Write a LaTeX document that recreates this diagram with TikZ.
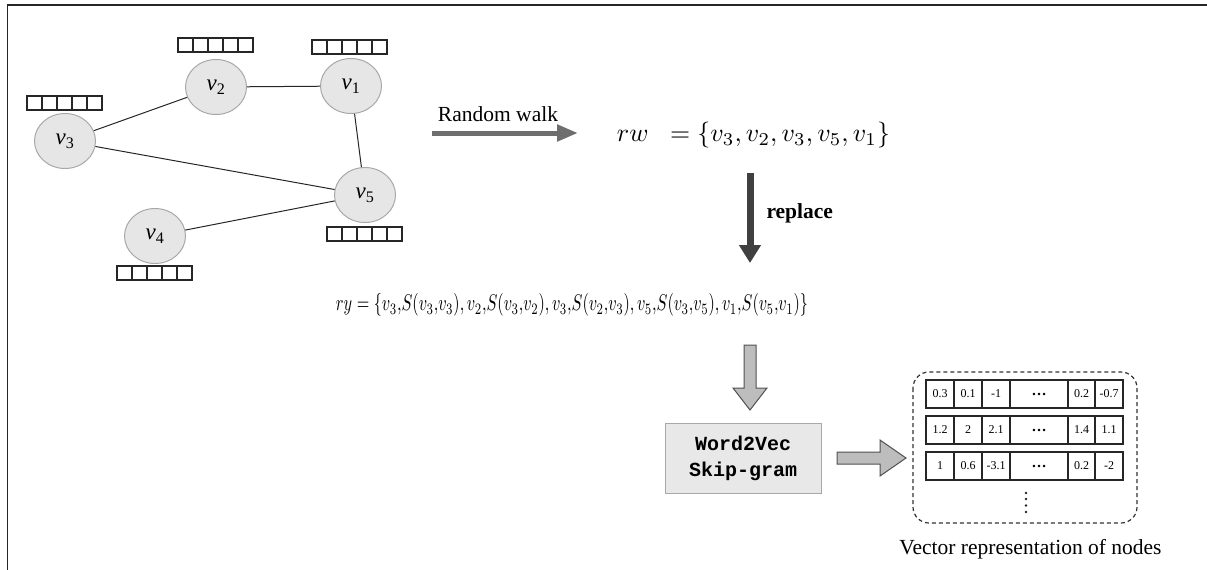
\documentclass[tikz,border=0pt]{standalone}
\usepackage{fontspec}
\usepackage{graphicx}
\setmainfont{Liberation Serif}
\newfontfamily\monob{Liberation Mono}
\usetikzlibrary{shapes.geometric,arrows.meta}
\definecolor{nodefill}{HTML}{E6E6E6}
\definecolor{nodeline}{HTML}{A8A8A8}
\definecolor{rwgray}{HTML}{6E6E6E}
\definecolor{repgray}{HTML}{404040}
\definecolor{blockfill}{HTML}{BDBDBD}
\definecolor{blockline}{HTML}{505050}
\definecolor{boxfill}{HTML}{E8E8E8}
\tikzset{
  vnode/.style={ellipse, minimum width=61pt, minimum height=55pt, inner sep=0pt, fill=nodefill, draw=nodeline, line width=1pt, font=\fontsize{23}{26}\selectfont},
  edge/.style={draw=black!85, line width=1pt},
  cellbox/.style={draw=black!85, line width=1.1pt},
  cell/.style={draw=black!85, line width=1.2pt, minimum height=28pt, inner sep=0pt, font=\fontsize{12}{14}\selectfont},
  blockarrow/.style={fill=blockfill, draw=blockline, line width=1pt, line join=miter},
}
\begin{document}
\begin{tikzpicture}[x=1pt,y=-1pt]
\useasboundingbox (0,0) rectangle (1207,570);
% frame
\draw[line width=1.3pt, black!85] (7.5,570) -- (7.5,5) -- (1207,5);

% graph nodes
\node[vnode] (v2) at (216,87) {\textit{v}\textsubscript{2}};
\node[vnode] (v1) at (351,86) {\textit{v}\textsubscript{1}};
\node[vnode] (v3) at (65,141) {\textit{v}\textsubscript{3}};
\node[vnode] (v5) at (365,195) {\textit{v}\textsubscript{5}};
\node[vnode] (v4) at (155,236) {\textit{v}\textsubscript{4}};

\draw[edge] (v2) -- (v1);
\draw[edge] (v3) -- (v2);
\draw[edge] (v3) -- (v5);
\draw[edge] (v1) -- (v5);
\draw[edge] (v4) -- (v5);

% embedding boxes
\foreach \bx/\by in {178/38, 312/40, 27/96, 327/227, 117/266}{
  \foreach \i in {0,...,4}{
    \draw[cellbox] (\bx+\i*15,\by) rectangle ++(15,14);
  }
}

% random walk arrow
\coordinate (rwstart) at (432,133);
\coordinate (rwend) at (578,133);
\draw[rwgray, line width=5pt, -{Triangle[length=21pt,width=16pt]}] (rwstart) -- (rwend);
\node[font=\fontsize{21.5}{24}\selectfont] (rwlabel) at (498,114) {Random walk};

% rw formula
\node[inner sep=0pt] (rw) at (753.5,135) {\resizebox{273pt}{!}{$rw\;\;=\{v_3,v_2,v_3,v_5,v_1\}$}};

% replace arrow
\coordinate (repstart) at (750,173);
\coordinate (repend) at (750,263);
\draw[repgray, line width=7pt, -{Triangle[length=18pt,width=21pt]}] (repstart) -- (repend);
\node[anchor=west, font=\bfseries\fontsize{21.5}{24}\selectfont] (replabel) at (763,213) {replace};

% ry formula
\node[inner sep=0pt] (ry) at (572,305) {\scalebox{1}[1.4]{\resizebox{472pt}{!}{$ry\mathrel{=}\{v_3{,}S(v_3{,}v_3){,}\,v_2{,}S(v_3{,}v_2){,}\,v_3{,}S(v_2{,}v_3){,}\,v_5{,}S(v_3{,}v_5){,}\,v_1{,}S(v_5{,}v_1)\}$}}};

% down block arrow
\draw[blockarrow] (744,345) -- (756,345) -- (756,388) -- (767,388) -- (750,410) -- (733,388) -- (744,388) -- cycle;

% word2vec box
\node[draw=nodeline, fill=boxfill, line width=1pt, minimum width=156pt, minimum height=70pt, align=center, font=\monob\bfseries\fontsize{20}{26}\selectfont] (w2v) at (743,458) {Word2Vec\\Skip-gram};

% right block arrow
\draw[blockarrow] (837,452) -- (880,452) -- (880,440) -- (906,458) -- (880,476) -- (880,464) -- (837,464) -- cycle;

% dashed container
\draw[dashed, dash pattern=on 4pt off 3pt, line width=1.2pt, black!80, rounded corners=16pt] (913,372) rectangle (1137,523);

% vector rows
\foreach \r/\y/\a/\b/\c/\d/\e in {1/394/0.3/0.1/-1/0.2/-0.7, 2/430/1.2/2/2.1/1.4/1.1, 3/466/1/0.6/-3.1/0.2/-2}{
  \node[cell, minimum width=28pt] (r\r c1) at (940,\y) {\a};
  \node[cell, minimum width=28pt] (r\r c2) at (968,\y) {\b};
  \node[cell, minimum width=28pt] (r\r c3) at (996,\y) {\c};
  \node[cell, minimum width=58pt, font=\bfseries\fontsize{15}{16}\selectfont] (r\r c4) at (1039,\y) {…};
  \node[cell, minimum width=27pt] (r\r c5) at (1081.5,\y) {\d};
  \node[cell, minimum width=28pt] (r\r c6) at (1109,\y) {\e};
}
\foreach \dy in {493,499,505.5,512}{
  \fill[black!85] (1026,\dy) circle (1.4pt);
}

\node[font=\fontsize{21.5}{24}\selectfont] (caption) at (1030.5,549) {Vector representation of nodes};
\end{tikzpicture}
\end{document}
